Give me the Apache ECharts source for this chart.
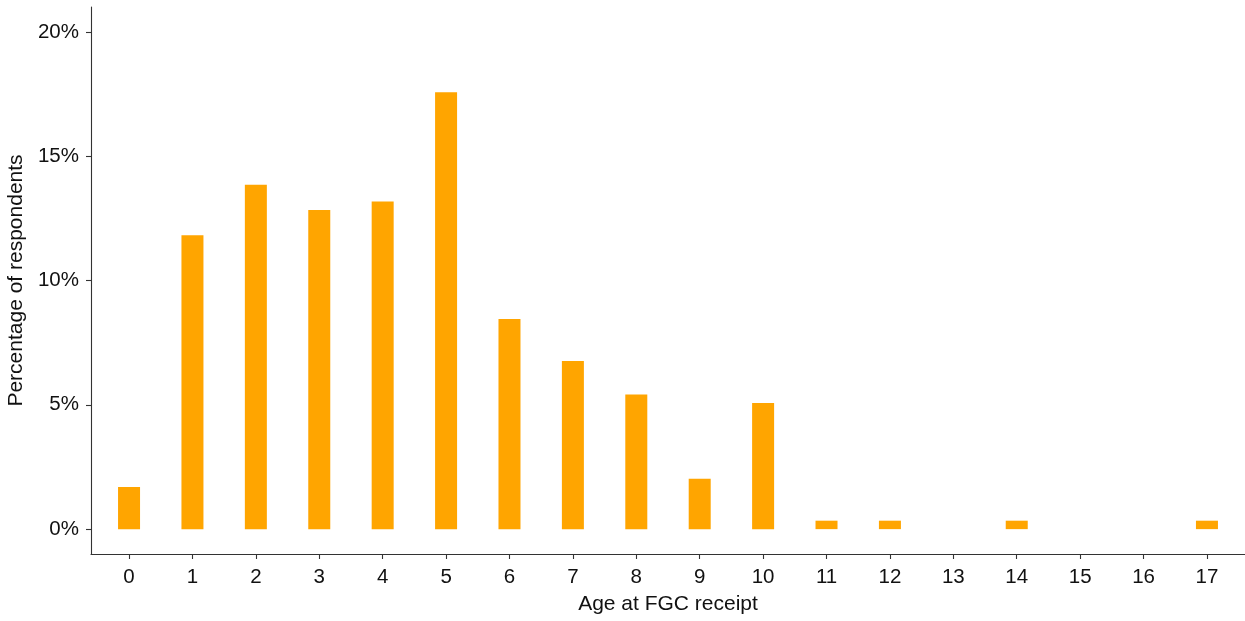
<!DOCTYPE html>
<html>
<head>
<meta charset="utf-8">
<script src="https://cdn.jsdelivr.net/npm/echarts@6/dist/echarts.min.js"></script>
<style>html,body{margin:0;padding:0;background:#fff}#c{width:1245px;height:621px}</style>
</head>
<body>
<div id="c"></div>
<script>
const ages = [0,1,2,3,4,5,6,7,8,9,10,11,12,13,14,15,16,17];
const percents = [1.69,11.82,13.85,12.84,13.18,17.57,8.45,6.76,5.41,2.03,5.07,0.34,0.34,0,0.34,0,0,0.34];
const yTicks = [0,5,10,15,20];
const xTitle = 'Age at FGC receipt';
const yTitle = 'Percentage of respondents';

const chart = echarts.init(document.getElementById('c'), null, {renderer:'canvas'});
const font = 'Liberation Sans, Arial, Helvetica, sans-serif';
const axisColor = '#333';
const textColor = '#111';
chart.setOption({
  animation:false,
  grid:{left:91,right:0,top:7,bottom:67,containLabel:false,outerBoundsMode:'none'},
  xAxis:{
    type:'value', min:-0.6, max:17.6,
    name:xTitle, nameLocation:'middle', nameGap:40,
    nameTextStyle:{fontFamily:font,fontSize:21,color:textColor},
    axisLine:{show:true,onZero:false,lineStyle:{color:axisColor,width:1.1}},
    axisTick:{show:true,length:5,customValues:ages,lineStyle:{color:axisColor,width:1.1}},
    axisLabel:{customValues:ages,margin:13,fontFamily:font,fontSize:20.5,color:textColor},
    splitLine:{show:false}
  },
  yAxis:{
    type:'value', min:-1, max:21,
    name:yTitle, nameLocation:'middle', nameGap:63,
    nameTextStyle:{fontFamily:font,fontSize:21,color:textColor},
    axisLine:{show:true,onZero:false,lineStyle:{color:axisColor,width:1.1}},
    axisTick:{show:true,length:5,customValues:yTicks,lineStyle:{color:axisColor,width:1.1}},
    axisLabel:{customValues:yTicks,margin:12,formatter:'{value}%',fontFamily:font,fontSize:20.5,color:textColor},
    splitLine:{show:false}
  },
  series:[{
    type:'bar',
    barWidth:22,
    itemStyle:{color:'#FFA500'},
    data:ages.map((a,i)=>[a,percents[i]])
  }]
});
</script>
</body>
</html>
